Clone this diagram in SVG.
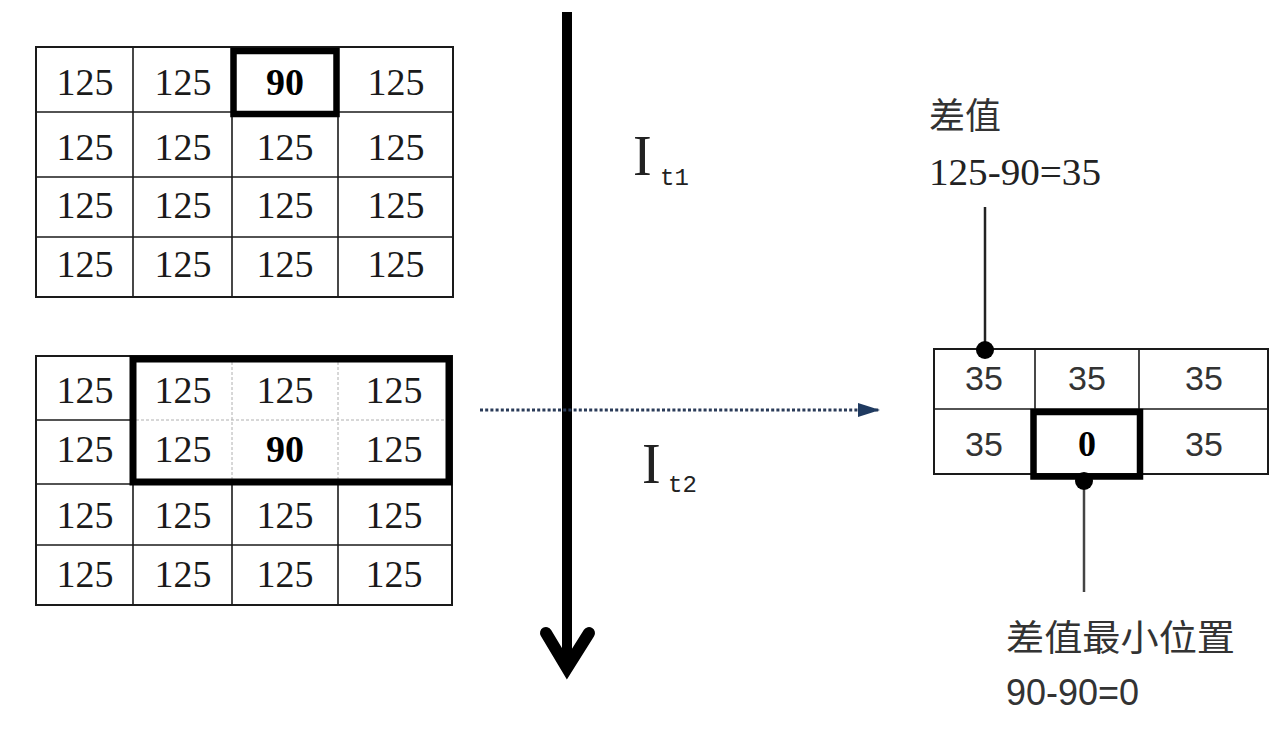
<svg xmlns="http://www.w3.org/2000/svg" width="1284" height="734" viewBox="0 0 1284 734">
<style>
.grid{fill:none;stroke:#1a1a1a;stroke-width:2}
.thin{stroke:#1a1a1a;stroke-width:1.6}
.dash{stroke:#b0b0b0;stroke-width:1;stroke-dasharray:3 2}
.bold{fill:none;stroke:#000;stroke-width:6.5}
.c{font-family:"Liberation Serif","Times New Roman",serif;font-size:38px;fill:#1a1a1a;text-anchor:middle}
.cb{font-weight:bold;fill:#000}
.s{font-family:"Liberation Sans",Arial,sans-serif;font-size:34px;fill:#333;text-anchor:middle}
.lbl{font-family:"Liberation Serif","Times New Roman",serif;fill:#222}
.cjk{font-family:"Noto Sans CJK SC","Noto Sans CJK JP",sans-serif;font-size:36px;fill:#333}
.sub{font-family:"Liberation Mono","DejaVu Sans Mono",monospace;font-size:24px;fill:#222}
</style>
<defs>
<marker id="navyHead" markerWidth="22" markerHeight="16" refX="21" refY="8" orient="auto" markerUnits="userSpaceOnUse">
<path d="M0,1 L22,8 L0,15 Z" fill="#1f3a60"/>
</marker>
</defs>

<g id="grid-t1">
<rect class="grid" x="36" y="47" width="417" height="250"/>
<line class="thin" x1="133" y1="47" x2="133" y2="297"/>
<line class="thin" x1="232" y1="47" x2="232" y2="297"/>
<line class="thin" x1="338" y1="47" x2="338" y2="297"/>
<line class="thin" x1="36" y1="112" x2="453" y2="112"/>
<line class="thin" x1="36" y1="177" x2="453" y2="177"/>
<line class="thin" x1="36" y1="237" x2="453" y2="237"/>
<rect class="bold" x="233.5" y="51" width="103" height="63"/>
<text class="c" x="85" y="95">125</text><text class="c" x="183" y="95">125</text><text class="c cb" x="285" y="95">90</text><text class="c" x="396" y="95">125</text>
<text class="c" x="85" y="160">125</text><text class="c" x="183" y="160">125</text><text class="c" x="285" y="160">125</text><text class="c" x="396" y="160">125</text>
<text class="c" x="85" y="218">125</text><text class="c" x="183" y="218">125</text><text class="c" x="285" y="218">125</text><text class="c" x="396" y="218">125</text>
<text class="c" x="85" y="277">125</text><text class="c" x="183" y="277">125</text><text class="c" x="285" y="277">125</text><text class="c" x="396" y="277">125</text>
</g>

<g id="grid-t2">
<rect class="grid" x="36" y="356" width="416" height="249"/>
<line class="thin" x1="133" y1="356" x2="133" y2="605"/>
<line class="thin" x1="232" y1="484" x2="232" y2="605"/>
<line class="thin" x1="338" y1="484" x2="338" y2="605"/>
<line class="dash" x1="232" y1="362" x2="232" y2="479"/>
<line class="dash" x1="338" y1="362" x2="338" y2="479"/>
<line class="thin" x1="36" y1="420" x2="133" y2="420"/>
<line class="dash" x1="136" y1="420" x2="446" y2="420"/>
<line class="thin" x1="36" y1="484" x2="452" y2="484"/>
<line class="thin" x1="36" y1="545" x2="452" y2="545"/>
<rect class="bold" x="133" y="359" width="316" height="123" style="stroke-width:7"/>
<text class="c" x="85" y="403">125</text><text class="c" x="183" y="403">125</text><text class="c" x="285" y="403">125</text><text class="c" x="394" y="403">125</text>
<text class="c" x="85" y="462">125</text><text class="c" x="183" y="462">125</text><text class="c cb" x="285" y="462">90</text><text class="c" x="394" y="462">125</text>
<text class="c" x="85" y="528">125</text><text class="c" x="183" y="528">125</text><text class="c" x="285" y="528">125</text><text class="c" x="394" y="528">125</text>
<text class="c" x="85" y="587">125</text><text class="c" x="183" y="587">125</text><text class="c" x="285" y="587">125</text><text class="c" x="394" y="587">125</text>
</g>

<g id="label-t1">
<text class="lbl" x="633" y="175" font-size="56">I</text>
<text class="sub" x="660" y="185">t1</text>
</g>
<g id="label-t2">
<text class="lbl" x="642" y="483" font-size="56">I</text>
<text class="sub" x="668" y="492">t2</text>
</g>

<g id="diff-grid">
<rect class="grid" x="934" y="349" width="334" height="125"/>
<line class="thin" x1="1035" y1="349" x2="1035" y2="474"/>
<line class="thin" x1="1139" y1="349" x2="1139" y2="474"/>
<line class="thin" x1="934" y1="409" x2="1268" y2="409"/>
<rect class="bold" x="1033.5" y="412" width="106.5" height="64.5"/>
<text class="s" x="984" y="390">35</text><text class="s" x="1087" y="390">35</text><text class="s" x="1204" y="390">35</text>
<text class="s" x="984" y="456">35</text><text class="c cb" x="1087" y="456" style="font-size:36px">0</text><text class="s" x="1204" y="456">35</text>
</g>

<g id="note-diff">
<text class="cjk" x="929" y="129">差值</text>
<text class="lbl" x="929" y="185" font-size="37" textLength="172" lengthAdjust="spacingAndGlyphs">125-90=35</text>
</g>
<g id="note-min">
<text class="cjk" x="1006" y="651" textLength="229" lengthAdjust="spacingAndGlyphs">差值最小位置</text>
<text x="1006" y="705" font-family="Liberation Sans, Arial, sans-serif" font-size="36" fill="#333">90-90=0</text>
</g>

<g id="connectors">
<line x1="567" y1="12" x2="567" y2="668" stroke="#000" stroke-width="10"/>
<polyline points="546,633 567,668 589,633" fill="none" stroke="#000" stroke-width="12" stroke-linecap="round" stroke-linejoin="miter" stroke-miterlimit="10"/>
<line x1="480" y1="410" x2="879" y2="410" stroke="#2a3b58" stroke-width="3" stroke-dasharray="3 2.2" marker-end="url(#navyHead)"/>
<line x1="985" y1="207" x2="985" y2="350" stroke="#222" stroke-width="2.5"/>
<circle cx="985" cy="350" r="9" fill="#000"/>
<line x1="1084" y1="481" x2="1084" y2="592" stroke="#444" stroke-width="2.5"/>
<circle cx="1084" cy="481" r="9" fill="#000"/>
</g>
</svg>
